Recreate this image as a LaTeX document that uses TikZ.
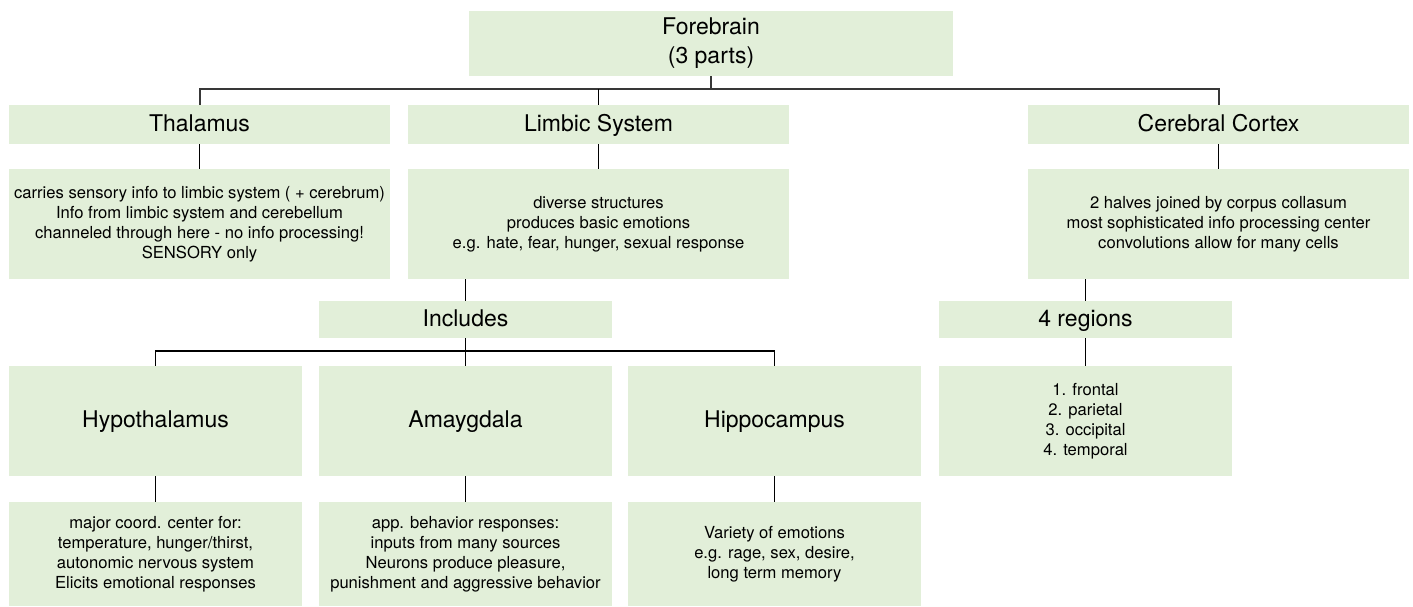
\documentclass[tikz,border=0pt]{standalone}
\usepackage{fontspec}
\setmainfont{TeX Gyre Heros}
\usepackage{tikz}
\usetikzlibrary{positioning}
\definecolor{boxgreen}{HTML}{E2EFD9}

\begin{document}
\begin{tikzpicture}[x=1pt,y=-1pt,
    box/.style={fill=boxgreen, inner sep=0pt, align=center, font=\fontsize{23}{29}\selectfont},
    title/.style={box, text height=17.5pt, text depth=4.5pt},
    info/.style={box, font=\fontsize{16.6}{20}\selectfont},
    bus/.style={line width=2pt, color=black!78},
    link/.style={line width=1.3pt}]
  \useasboundingbox (0,0) rectangle (1413,606);
  \node[box, minimum width=484, minimum height=65] (fore) at (711,43.5) {Forebrain\\(3 parts)};
  \node[title, minimum width=381, minimum height=39] (thal) at (199.5,124.5) {Thalamus};
  \node[title, minimum width=381, minimum height=39] (limb) at (598.5,124.5) {Limbic System};
  \node[title, minimum width=381, minimum height=39] (cort) at (1218.5,124.5) {Cerebral Cortex};
  \node[info, minimum width=381, minimum height=110] (thalx) at (199.5,224) {carries sensory info to limbic system ( + cerebrum)\\Info from limbic system and cerebellum\\channeled through here - no info processing!\\SENSORY only};
  \node[info, minimum width=381, minimum height=110] (limbx) at (598.5,224) {diverse structures\\produces basic emotions\\e.g. hate, fear, hunger, sexual response};
  \node[info, minimum width=381, minimum height=110] (cortx) at (1218.5,224) {2 halves joined by corpus collasum\\most sophisticated info processing center\\convolutions allow for many cells};
  \node[title, minimum width=293, minimum height=37] (incl) at (465.5,319.5) {Includes};
  \node[title, minimum width=293, minimum height=37] (regs) at (1085.5,319.5) {4 regions};
  \node[title, minimum width=293, minimum height=110] (hypo) at (155.5,421) {Hypothalamus};
  \node[title, minimum width=293, minimum height=110] (amyg) at (465.5,421) {Amaygdala};
  \node[title, minimum width=293, minimum height=110] (hipp) at (774.5,421) {Hippocampus};
  \node[info, minimum width=293, minimum height=110] (regsx) at (1085.5,421) {1. frontal\\2. parietal\\3. occipital\\4. temporal};
  \node[info, minimum width=293, minimum height=104] (hypox) at (155.5,554) {major coord. center for:\\temperature, hunger/thirst,\\autonomic nervous system\\Elicits emotional responses};
  \node[info, minimum width=293, minimum height=104] (amygx) at (465.5,554) {app. behavior responses:\\inputs from many sources\\Neurons produce pleasure,\\punishment and aggressive behavior};
  \node[info, minimum width=293, minimum height=104] (hippx) at (774.5,554) {Variety of emotions\\e.g. rage, sex, desire,\\long term memory};
  \coordinate (top) at (0,89);
  \coordinate (mid) at (0,351);
  \draw[bus] (thal.north) -- (thal.north |- top) -- (cort.north |- top) -- (cort.north);
  \draw[bus] (fore.south) -- (fore.south |- top);
  \draw[link] (limb.north) -- (limb.north |- top);
  \draw[link] (thal) -- (thalx);
  \draw[link] (limb) -- (limbx);
  \draw[link] (cort) -- (cortx);
  \draw[link] (incl.north) -- (incl.north |- limbx.south);
  \draw[link] (regs.north) -- (regs.north |- cortx.south);
  \draw[link] (regs) -- (regsx);
  \draw[link] (hypo.north) -- (hypo.north |- mid) -- (hipp.north |- mid) -- (hipp.north);
  \draw[link] (incl) -- (amyg);
  \draw[link] (hypo) -- (hypox);
  \draw[link] (amyg) -- (amygx);
  \draw[link] (hipp) -- (hippx);
\end{tikzpicture}
\end{document}
